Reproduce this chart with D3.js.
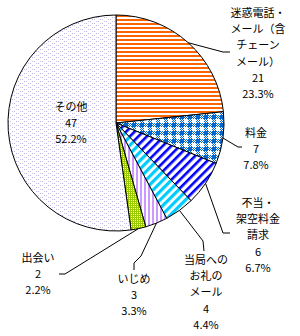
<!DOCTYPE html>
<html>
<head>
<meta charset="utf-8">
<script src="https://cdnjs.cloudflare.com/ajax/libs/d3/7.8.5/d3.min.js"></script>
<style>
  body { margin: 0; background: #fff; }
  svg text { font-family: "Noto Sans CJK JP", "Noto Sans", sans-serif; font-size: 11px; fill: #000; }
</style>
</head>
<body>
<div id="chart"></div>
<script>
const width = 300;
const height = 336;

// data, clockwise from 12 o'clock
const categories = [
  ["迷惑電話・", "メール（含", "チェーン", "メール）"],
  ["料金"],
  ["不当・", "架空料金", "請求"],
  ["当局への", "お礼の", "メール"],
  ["いじめ"],
  ["出会い"],
  ["その他"]
];
const counts = [21, 7, 6, 4, 3, 2, 47];
const percents = ["23.3%", "7.8%", "6.7%", "4.4%", "3.3%", "2.2%", "52.2%"];

// label layout: text centre and first line, leader elbow points
const labelPos = [
  { x: 258, y: 13, leader: [[223, 52], [230, 52]] },
  { x: 256, y: 133, leader: [[238, 147], [242, 147]] },
  { x: 258, y: 203, leader: [[223, 233], [230, 233]] },
  { x: 206, y: 260, leader: [[203, 241], [204, 251]] },
  { x: 134, y: 279, leader: [[141, 256], [134, 263], [134, 270]] },
  { x: 38, y: 258, leader: [[65, 274], [59, 274]] },
  { x: 71, y: 107, leader: null }
];

const cx = 116, cy = 123, r = 108;
const lineH = 16.3;

const svg = d3.select("#chart")
  .append("svg")
  .attr("width", width)
  .attr("height", height);

const defs = svg.append("defs");

function pat(id, w, h, draw, transform) {
  const p = defs.append("pattern")
    .attr("id", id)
    .attr("patternUnits", "userSpaceOnUse")
    .attr("width", w)
    .attr("height", h);
  if (transform) p.attr("patternTransform", transform);
  p.append("rect").attr("width", w).attr("height", h).attr("fill", "#fff");
  draw(p);
}

// orange horizontal stripes
pat("p0", 4, 4, p => p.append("rect").attr("width", 4).attr("height", 2).attr("fill", "#ff6600"));
// blue plaid
pat("p1", 8, 8, p => {
  p.append("rect").attr("width", 4).attr("height", 4).attr("fill", "#0066cc");
  for (let i = 0; i < 4; i++) {
    for (let j = 0; j < 4; j++) {
      if ((i + j) % 2 === 0) {
        p.append("rect").attr("x", 4 + i).attr("y", j).attr("width", 1).attr("height", 1).attr("fill", "#0066cc");
        p.append("rect").attr("x", i).attr("y", 4 + j).attr("width", 1).attr("height", 1).attr("fill", "#0066cc");
      }
    }
  }
});
// blue diagonal stripes
pat("p2", 6, 6, p => p.append("rect").attr("width", 2.6).attr("height", 6).attr("fill", "#0000ff"), "rotate(45)");
// cyan diagonal stripes
pat("p3", 6, 6, p => p.append("rect").attr("width", 3.2).attr("height", 6).attr("fill", "#00ccff"), "rotate(45)");
// lavender vertical stripes
pat("p4", 4, 4, p => p.append("rect").attr("width", 2).attr("height", 4).attr("fill", "#cc99ff"));
// green dots
pat("p5", 4, 4, p => {
  p.append("rect").attr("width", 4).attr("height", 4).attr("fill", "#99cc00");
  p.append("rect").attr("x", 1).attr("y", 1).attr("width", 1).attr("height", 1).attr("fill", "#fff");
  p.append("rect").attr("x", 3).attr("y", 3).attr("width", 1).attr("height", 1).attr("fill", "#fff");
  p.append("rect").attr("x", 3).attr("y", 1).attr("width", 1).attr("height", 1).attr("fill", "#fff");
  p.append("rect").attr("x", 1).attr("y", 3).attr("width", 1).attr("height", 1).attr("fill", "#fff");
});
// sparse lavender dots
pat("p6", 8, 8, p => {
  [[0, 0, "#b8b0f0"], [4, 2, "#c8c8d8"], [2, 4, "#b8b0f0"], [6, 6, "#c8c8d8"], [4, 6, "#b8b0f0"], [0, 4, "#c8c8d8"], [6, 2, "#b8b0f0"], [2, 0, "#c8c8d8"]]
    .forEach(d => p.append("rect").attr("x", d[0]).attr("y", d[1]).attr("width", 1).attr("height", 1).attr("fill", d[2]));
});

const pie = d3.pie().sort(null).value(d => d);
const arcs = pie(counts);
const arc = d3.arc().innerRadius(0).outerRadius(r);

const g = svg.append("g").attr("transform", `translate(${cx},${cy})`);

g.selectAll(".slice")
  .data(arcs)
  .enter()
  .append("path")
  .attr("class", "slice")
  .attr("d", arc)
  .attr("fill", (d, i) => `url(#p${i})`)
  .attr("stroke", "#000")
  .attr("stroke-width", 1);

// leader lines from the middle of each slice's outer edge
arcs.forEach((d, i) => {
  const lp = labelPos[i];
  if (!lp.leader) return;
  const a = (d.startAngle + d.endAngle) / 2;
  const pts = [[cx + r * Math.sin(a), cy - r * Math.cos(a)]].concat(lp.leader);
  svg.append("path")
    .attr("d", d3.line()(pts))
    .attr("fill", "none")
    .attr("stroke", "#000")
    .attr("stroke-width", 1);
});

// labels
categories.forEach((lines, i) => {
  const lp = labelPos[i];
  const all = lines.concat([String(counts[i]), percents[i]]);
  const t = svg.append("text")
    .attr("text-anchor", "middle");
  all.forEach((s, k) => {
    t.append("tspan")
      .attr("x", lp.x)
      .attr("y", lp.y + k * lineH)
      .attr("dy", "0.35em")
      .text(s);
  });
});
</script>
</body>
</html>
